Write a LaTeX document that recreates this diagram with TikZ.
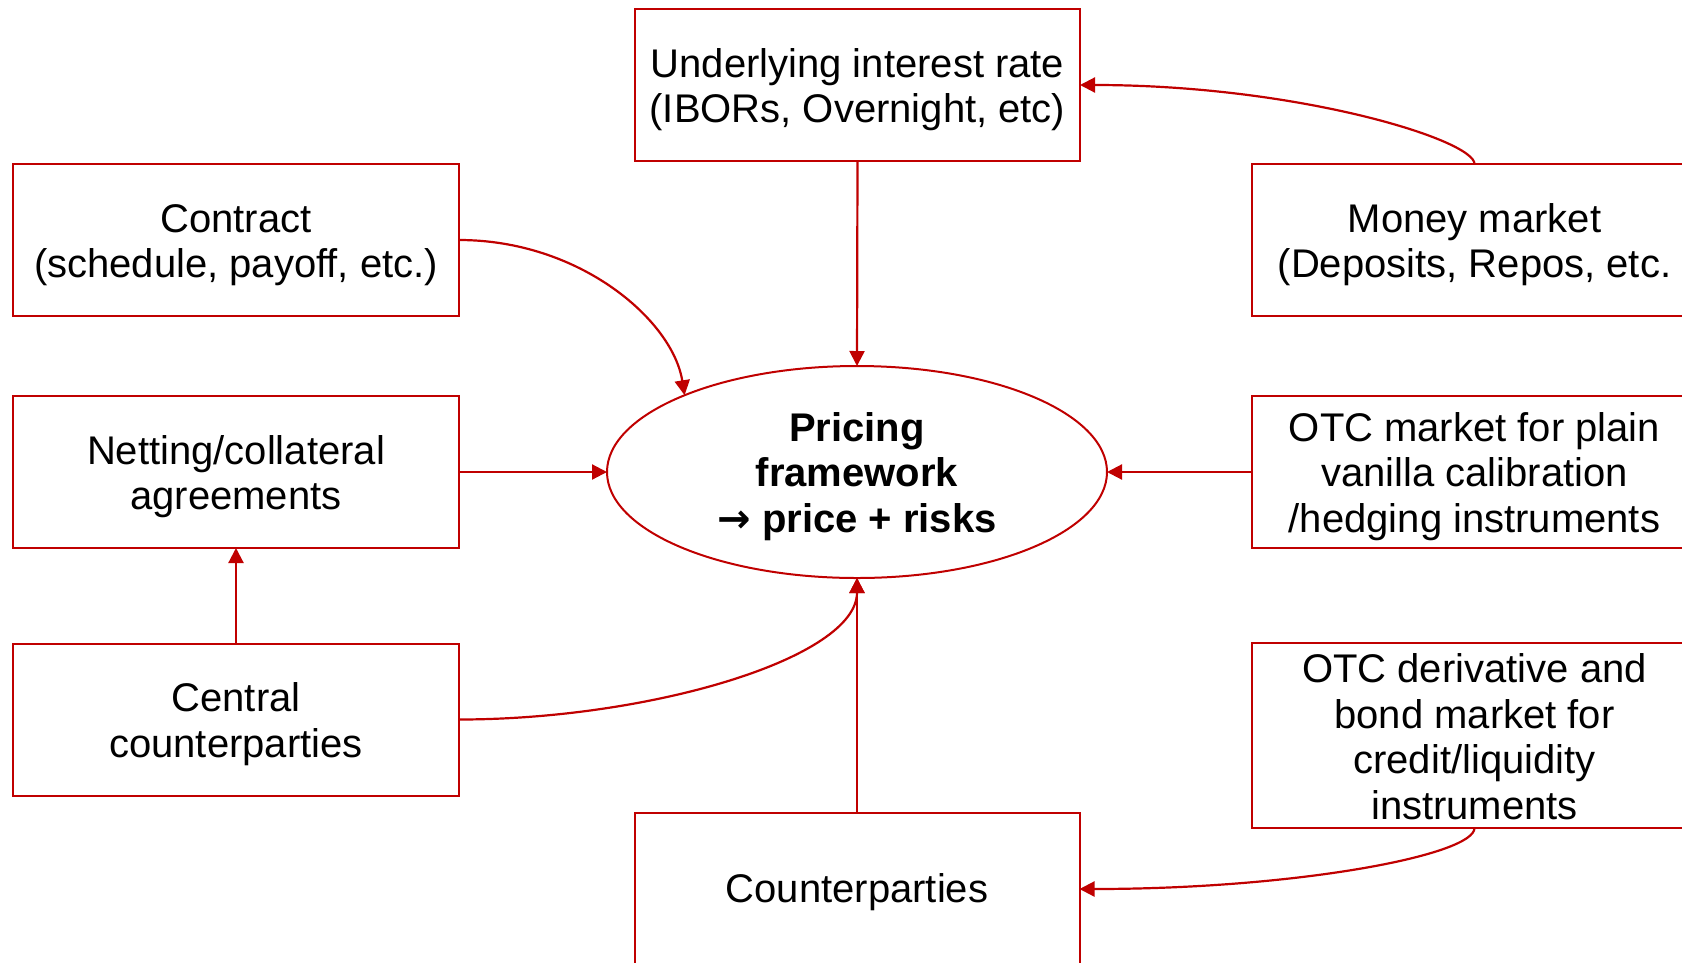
\documentclass[tikz,border=0pt]{standalone}
\usepackage{fontspec}
\setmainfont{Liberation Sans}
\newfontfamily\arrowfont{DejaVu Sans}
\usetikzlibrary{arrows.meta,shapes.geometric}
\definecolor{dred}{RGB}{192,0,0}
\newcommand{\lift}[1]{\rule{0pt}{#1pt}}
\tikzset{
  box/.style={draw=dred, line width=2pt, rectangle, minimum width=445pt, minimum height=152pt,
    inner sep=0pt, outer sep=0pt, align=center, font=\fontsize{40}{45.5}\selectfont},
  hub/.style={draw=dred, line width=2pt, ellipse, minimum width=500pt, minimum height=212pt,
    inner sep=0pt, outer sep=0pt, align=center, font=\fontsize{40}{45.5}\selectfont\bfseries},
  link/.style={draw=dred, line width=2.2pt, -{Triangle[length=15pt,width=15pt]}}
}
\begin{document}
\begin{tikzpicture}[x=1pt,y=-1pt]
\path[use as bounding box, clip] (0,0) rectangle (1682,962);
\fill[white] (0,0) rectangle (1682,962);
\node[hub] (P) at (857,472) {\lift{38}Pricing\\framework\\{\arrowfont\bfseries →} price + risks};
\node[box] (U) at (857.5,85) {\lift{38}Underlying interest rate\\(IBORs, Overnight, etc)};
\node[box, minimum width=446pt] (C) at (236,240) {\lift{38}Contract\\(schedule, payoff, etc.)};
\node[box, minimum width=446pt] (N) at (236,472) {\lift{38}Netting/collateral\\agreements};
\node[box, minimum width=446pt] (CC) at (236,719.5) {\lift{38}Central\\counterparties};
\node[box] (M) at (1474.5,240) {\lift{38}Money market\\(Deposits, Repos, etc.};
\node[box] (O) at (1474.5,472) {\lift{38}OTC market for plain\\vanilla calibration\\/hedging instruments};
\node[box, minimum height=185pt] (D) at (1474.5,735.5) {\lift{31}OTC derivative and\\bond market for\\credit/liquidity\\instruments};
\node[box] (K) at (857,889) {\lift{35}Counterparties};
% connectors
\draw[link] (U.south) -- (P.north);
\draw[link] (C.east) .. controls +(121,0) and +(-12,-75) .. (P.156);
\draw[link] (N.east) -- (P.west);
\draw[link] (CC.north) -- (N.south);
\draw[link] (CC.east) .. controls +(191,0) and +(0,80) .. (P.south);
\draw[link] (K.north) -- (P.south);
\draw[link] (O.west) -- (P.east);
\draw[link] (M.north) .. controls +(0,-24) and +(218,0) .. (U.east);
\draw[link] (D.south) .. controls +(0,27) and +(218,0) .. (K.east);
\end{tikzpicture}
\end{document}
